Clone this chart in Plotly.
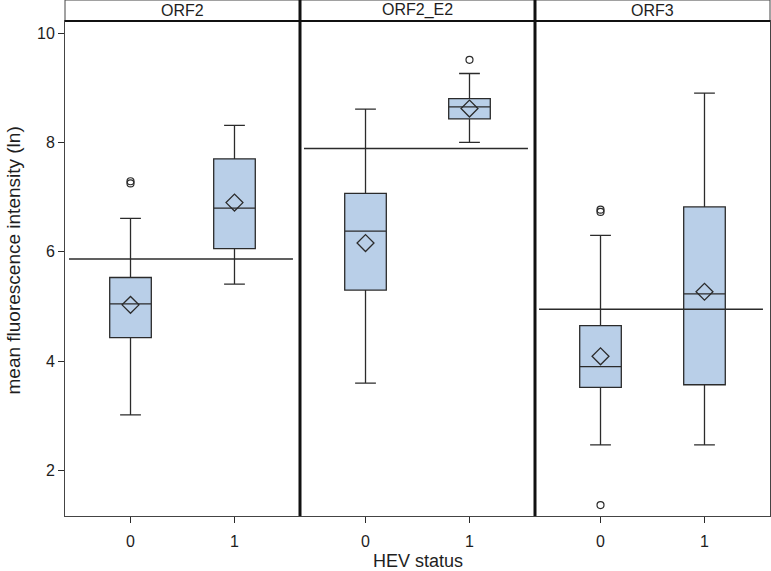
import plotly.graph_objects as go
from plotly.subplots import make_subplots

# ---- data ----
panels = ["ORF2", "ORF2_E2", "ORF3"]
hev_status = [0, 1]
q1_vals = [[4.43, 6.06], [5.30, 8.43], [3.52, 3.57]]
median_vals = [[5.05, 6.80], [6.38, 8.65], [3.90, 5.23]]
q3_vals = [[5.53, 7.70], [7.07, 8.80], [4.65, 6.82]]
lower_whisker = [[3.02, 5.41], [3.60, 8.00], [2.47, 2.47]]
upper_whisker = [[6.61, 8.31], [8.61, 9.26], [6.30, 8.90]]
mean_vals = [[5.03, 6.90], [6.16, 8.62], [4.09, 5.27]]
outliers = [[[7.25, 7.29], []], [[], [9.51]], [[6.73, 6.77, 1.37], []]]
ref_line = [5.87, 7.89, 4.95]
y_ticks = [2, 4, 6, 8, 10]

# ---- styles ----
FONT = "Liberation Sans, Arial, sans-serif"
DARK = "#2b2b2b"
FRAME = "#444444"
FILL = "#b9cfe8"
TXT = "#1e1e1e"
HEADER_FRAC = 21 / 495

fig = make_subplots(rows=1, cols=3, shared_yaxes=True, horizontal_spacing=0)

for p, name in enumerate(panels):
    col = p + 1
    for i, h in enumerate(hev_status):
        fig.add_trace(go.Box(
            x=[h], q1=[q1_vals[p][i]], median=[median_vals[p][i]], q3=[q3_vals[p][i]],
            lowerfence=[lower_whisker[p][i]], upperfence=[upper_whisker[p][i]],
            width=0.4, whiskerwidth=0.5, fillcolor=FILL,
            line=dict(color=DARK, width=1.3), boxpoints=False, showlegend=False,
        ), row=1, col=col)
        if outliers[p][i]:
            fig.add_trace(go.Scatter(
                x=[h] * len(outliers[p][i]), y=outliers[p][i], mode="markers",
                marker=dict(symbol="circle-open", size=7, color=DARK, line=dict(width=1.2)),
                showlegend=False,
            ), row=1, col=col)
    fig.add_trace(go.Scatter(
        x=hev_status, y=mean_vals[p], mode="markers",
        marker=dict(symbol="diamond-open", size=13, color=DARK, line=dict(width=1.3)),
        showlegend=False,
    ), row=1, col=col)
    xref = "x" if col == 1 else f"x{col}"
    yref = "y" if col == 1 else f"y{col}"
    fig.add_shape(type="line", xref=f"{xref} domain", yref=yref,
                  x0=0.017, x1=0.97, y0=ref_line[p], y1=ref_line[p],
                  line=dict(color=DARK, width=1.5))
    # header strip
    fig.add_shape(type="rect", xref=f"{xref} domain", yref="paper",
                  x0=0, x1=1, y0=1, y1=1 + HEADER_FRAC,
                  line=dict(color=FRAME, width=1), fillcolor="white", layer="above")
    fig.add_annotation(text=name, xref=f"{xref} domain", yref="paper",
                       x=0.5, y=1 + HEADER_FRAC / 2, showarrow=False,
                       font=dict(family=FONT, size=16, color=TXT),
                       xanchor="center", yanchor="middle")

# header bottom line and thick panel dividers
fig.add_shape(type="line", xref="paper", yref="paper", x0=0, x1=1, y0=1, y1=1,
              line=dict(color="#111", width=2), layer="above")
for xd in (1 / 3, 2 / 3):
    fig.add_shape(type="line", xref="paper", yref="paper", x0=xd, x1=xd,
                  y0=0, y1=1 + HEADER_FRAC, line=dict(color="#111", width=3), layer="above")

for col in range(1, 4):
    fig.update_xaxes(range=[-0.63, 1.63], tickvals=hev_status, ticktext=[str(h) for h in hev_status],
                     ticks="outside", ticklen=6, tickcolor=DARK, tickwidth=1.2,
                     ticklabelstandoff=5,
                     showline=True, mirror=True, linecolor=FRAME, linewidth=1,
                     showgrid=False, zeroline=False,
                     tickfont=dict(family=FONT, size=16, color=TXT), row=1, col=col)
    fig.update_yaxes(range=[1.17, 10.22], tickvals=y_ticks,
                     showline=True, mirror=True, linecolor=FRAME, linewidth=1,
                     showgrid=False, zeroline=False, row=1, col=col)

fig.update_yaxes(ticks="outside", ticklen=6, tickcolor=DARK, tickwidth=1.2,
                 tickfont=dict(family=FONT, size=16, color=TXT), row=1, col=1)

fig.add_annotation(text="mean fluorescence intensity (ln)", xref="paper", yref="paper",
                   x=0, y=0.5, xshift=-52, yshift=8, textangle=-90, showarrow=False,
                   xanchor="center", yanchor="middle",
                   font=dict(family=FONT, size=19, color=TXT))
fig.add_annotation(text="HEV status", xref="paper", yref="paper", x=0.5, y=0,
                   yshift=-45, showarrow=False, yanchor="middle",
                   font=dict(family=FONT, size=18, color=TXT))

fig.update_layout(
    width=771, height=571,
    margin=dict(l=65, r=1, t=21, b=55),
    paper_bgcolor="white", plot_bgcolor="white",
    font=dict(family=FONT),
)

fig.write_html("out.html", config={"displayModeBar": False},
               post_script="document.body.style.margin='0';document.body.style.overflow='hidden';")
